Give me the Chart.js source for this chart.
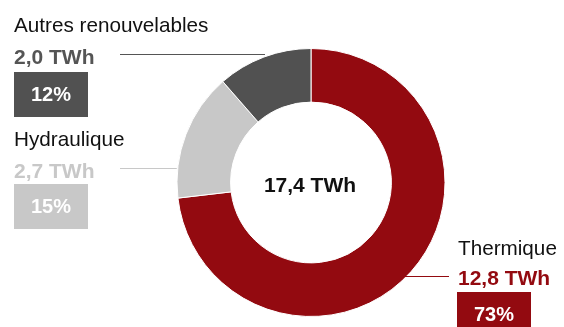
<!DOCTYPE html>
<html lang="fr">
<head>
<meta charset="utf-8">
<script src="https://cdn.jsdelivr.net/npm/chart.js@4.4.1/dist/chart.umd.min.js"></script>
<style>
    body { margin: 0; background: #fff; font-family: "Liberation Sans", Arial, sans-serif; }
    #wrap { position: relative; width: 564px; height: 327px; overflow: hidden; }
    canvas { position: absolute; left: 0; top: 0; }
    .lbl { position: absolute; white-space: nowrap; line-height: 1; }
    .name { font-size: 20.7px; color: #111; }
    .val { font-size: 21px; font-weight: bold; }
    .box { position: absolute; width: 74px; height: 45px; display: flex; align-items: center; justify-content: center;
           color: #fff; font-weight: bold; font-size: 20px; }
</style>
</head>
<body>
<div id="wrap">
    <canvas id="donut" width="564" height="327"></canvas>
    <div id="labels"></div>
</div>
<script>
// Données (TWh)
const categories = ['Thermique', 'Hydraulique', 'Autres renouvelables'];
const valeurs = [12.8, 2.7, 2.0];
const valeursTexte = ['12,8 TWh', '2,7 TWh', '2,0 TWh'];
const pourcentages = ['73%', '15%', '12%'];
const totalTexte = '17,4 TWh';
const couleurs = ['#930a10', '#c8c8c8', '#515151'];
const couleursValeur = ['#930a10', '#c8c8c8', '#555555'];

// Position des étiquettes (x, haut du nom, haut de la valeur, haut de la boîte, y du trait)
const etiquettes = [
    { x: 458, nom: 238, val: 267, boite: 292, trait: 276, cote: 'droite', fin: 449 },
    { x: 14, nom: 128.5, val: 160, boite: 184, trait: 168, cote: 'gauche', fin: 120 },
    { x: 14, nom: 14.5, val: 45.5, boite: 72, trait: 54, cote: 'gauche', fin: 120 }
];

// Crée les étiquettes HTML
const container = document.getElementById('labels');
categories.forEach((cat, i) => {
    const e = etiquettes[i];
    container.innerHTML += `
        <div class="lbl name" style="left:${e.x}px;top:${e.nom}px">${cat}</div>
        <div class="lbl val" style="left:${e.x}px;top:${e.val}px;color:${couleursValeur[i]}">${valeursTexte[i]}</div>
        <div class="box" style="left:${e.x - (e.cote === 'droite' ? 1 : 0)}px;top:${e.boite}px;background:${couleurs[i]}">${pourcentages[i]}</div>
    `;
});

// Traits de rappel vers l'anneau + total au centre
const traitsPlugin = {
    id: 'traits',
    afterDraw(chart) {
        const ctx = chart.ctx;
        const arc = chart.getDatasetMeta(0).data[0];
        const cx = arc.x, cy = arc.y, r = arc.outerRadius;
        etiquettes.forEach((e, i) => {
            const dy = e.trait - cy;
            const dx = Math.sqrt(Math.max(r * r - dy * dy, 0));
            const bord = e.cote === 'droite' ? cx + dx - 3 : cx - dx - (i === 2 ? 8 : 1);
            ctx.save();
            ctx.strokeStyle = couleursValeur[i];
            ctx.lineWidth = 1.2;
            ctx.beginPath();
            ctx.moveTo(e.fin, e.trait + 0.5);
            ctx.lineTo(bord, e.trait + 0.5);
            ctx.stroke();
            ctx.restore();
        });
        ctx.save();
        ctx.font = 'bold 21px "Liberation Sans", Arial, sans-serif';
        ctx.fillStyle = '#111';
        ctx.textAlign = 'center';
        ctx.textBaseline = 'alphabetic';
        ctx.fillText(totalTexte, cx - 1, cy + 9.5);
        ctx.restore();
    }
};

new Chart(document.getElementById('donut'), {
    type: 'doughnut',
    data: {
        labels: categories,
        datasets: [{
            data: valeurs,
            backgroundColor: couleurs,
            borderColor: '#ffffff',
            borderWidth: 1,
            hoverOffset: 0
        }]
    },
    options: {
        responsive: false,
        animation: false,
        cutout: '60%',
        layout: { padding: { left: 176, right: 118, top: 48, bottom: 10 } },
        plugins: {
            legend: { display: false },
            tooltip: { enabled: false }
        }
    },
    plugins: [traitsPlugin]
});
</script>
</body>
</html>
